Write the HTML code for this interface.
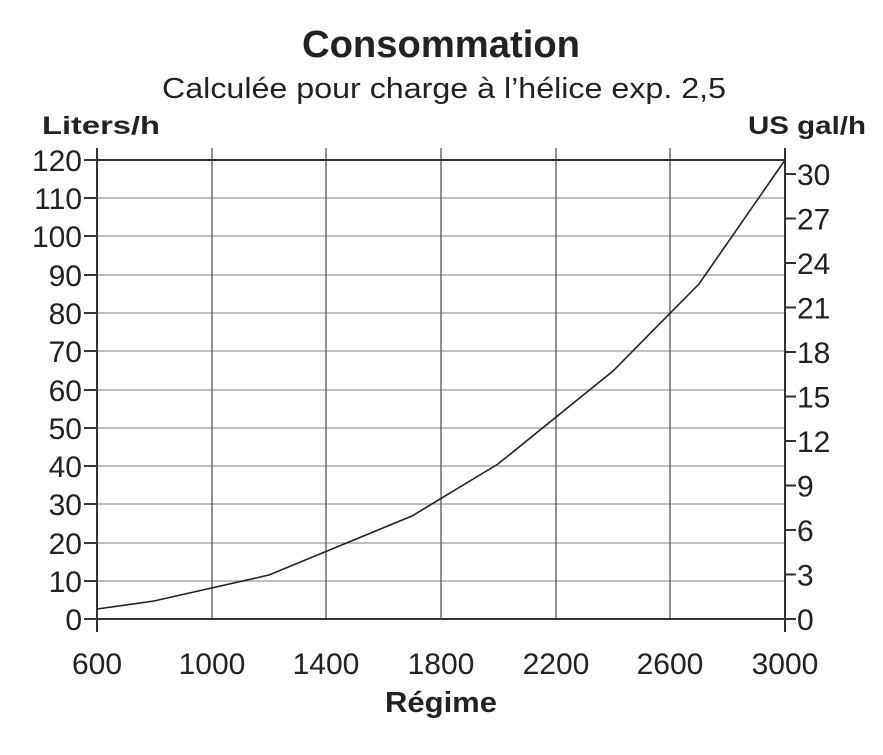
<!DOCTYPE html>
<html><head><meta charset="utf-8"><style>body{margin:0;background:#fff}</style></head><body>
<svg width="883" height="750" xmlns="http://www.w3.org/2000/svg" font-family="Liberation Sans, sans-serif" fill="#222">
<text x="441" y="57" font-size="38" font-weight="bold" text-anchor="middle" textLength="278" lengthAdjust="spacingAndGlyphs">Consommation</text>
<text x="444" y="98" font-size="29" text-anchor="middle" textLength="564" lengthAdjust="spacingAndGlyphs">Calculée pour charge à l’hélice exp. 2,5</text>
<text x="42" y="134" font-size="25" font-weight="bold" textLength="118" lengthAdjust="spacingAndGlyphs">Liters/h</text>
<text x="866" y="134" font-size="25" font-weight="bold" text-anchor="end" textLength="118" lengthAdjust="spacingAndGlyphs">US gal/h</text>
<g stroke="#999" stroke-width="1.2">
<line x1="97" y1="581" x2="785" y2="581"/><line x1="97" y1="543" x2="785" y2="543"/><line x1="97" y1="504" x2="785" y2="504"/>
<line x1="97" y1="466" x2="785" y2="466"/><line x1="97" y1="428" x2="785" y2="428"/><line x1="97" y1="390" x2="785" y2="390"/>
<line x1="97" y1="351" x2="785" y2="351"/><line x1="97" y1="313" x2="785" y2="313"/><line x1="97" y1="275" x2="785" y2="275"/>
<line x1="97" y1="236" x2="785" y2="236"/><line x1="97" y1="198" x2="785" y2="198"/>
</g>
<g stroke="#555" stroke-width="1.3">
<line x1="212" y1="148" x2="212" y2="619"/><line x1="326" y1="148" x2="326" y2="619"/><line x1="441" y1="148" x2="441" y2="619"/>
<line x1="556" y1="148" x2="556" y2="619"/><line x1="670" y1="148" x2="670" y2="619"/>
</g>
<g stroke="#333" stroke-width="2">
<line x1="97" y1="148" x2="97" y2="632"/><line x1="785" y1="148" x2="785" y2="632"/>
<line x1="97" y1="160" x2="785" y2="160"/><line x1="97" y1="619" x2="785" y2="619"/>
<path d="M84 619H97M84 581H97M84 543H97M84 504H97M84 466H97M84 428H97M84 390H97M84 351H97M84 313H97M84 275H97M84 236H97M84 198H97M84 160H97"/>
<path d="M785 619H796M785 574.5H796M785 530H796M785 485.5H796M785 441H796M785 396.5H796M785 352H796M785 307.5H796M785 263H796M785 218.5H796M785 174H796"/>
</g>
<polyline fill="none" stroke="#222" stroke-width="1.6" points="97,609 154,601 269,575 412,516 498,464 613,371 699,284 785,160"/>
<g font-size="30" text-anchor="end">
<text x="82" y="630">0</text><text x="82" y="592">10</text><text x="82" y="554">20</text><text x="82" y="515">30</text>
<text x="82" y="477">40</text><text x="82" y="439">50</text><text x="82" y="401">60</text><text x="82" y="362">70</text>
<text x="82" y="324">80</text><text x="82" y="286">90</text><text x="82" y="247">100</text><text x="82" y="209">110</text><text x="82" y="171">120</text>
</g>
<g font-size="30">
<text x="797" y="630">0</text><text x="797" y="585.5">3</text><text x="797" y="541">6</text><text x="797" y="496.5">9</text>
<text x="797" y="452">12</text><text x="797" y="407.5">15</text><text x="797" y="363">18</text><text x="797" y="318.5">21</text>
<text x="797" y="274">24</text><text x="797" y="229.5">27</text><text x="797" y="185">30</text>
</g>
<g font-size="30" text-anchor="middle">
<text x="97" y="674">600</text><text x="212" y="674">1000</text><text x="326" y="674">1400</text><text x="441" y="674">1800</text>
<text x="556" y="674">2200</text><text x="670" y="674">2600</text><text x="785" y="674">3000</text>
</g>
<text x="441" y="712" font-size="29" font-weight="bold" text-anchor="middle" textLength="112" lengthAdjust="spacingAndGlyphs">Régime</text>
</svg>
</body></html>
